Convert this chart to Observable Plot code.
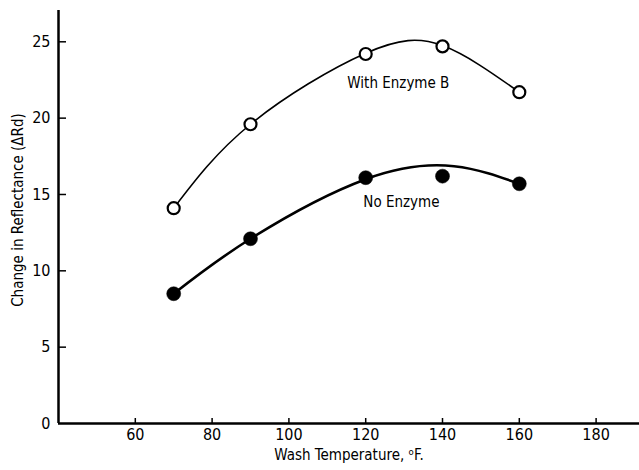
<!DOCTYPE html>
<html>
<head>
<meta charset="utf-8">
<script src="https://cdn.jsdelivr.net/npm/d3@7"></script>
<script src="https://cdn.jsdelivr.net/npm/@observablehq/plot@0.6"></script>
<style>
  html, body { margin: 0; padding: 0; background: #fff; }
</style>
</head>
<body>
<div id="chart"></div>
<script>
// Measured points
const temps = [70, 90, 120, 140, 160];
const withEnzyme = [14.1, 19.6, 24.2, 24.7, 21.7];
const noEnzyme = [8.5, 12.1, 16.1, 16.2, 15.7];

// Hand-drawn fitted curves (control points)
const withCurveX = [70, 90, 120, 140, 160];
const withCurveY = [14.1, 19.6, 24.25, 24.75, 21.7];
const noCurveX = [70, 90, 120, 143, 160];
const noCurveY = [8.5, 12.1, 16.0, 16.85, 15.7];

// Ticks
const xTicks = [60, 80, 100, 120, 140, 160, 180];
const yTicks = [5, 10, 15, 20, 25];
const yLabels = [0, 5, 10, 15, 20, 25];

// Annotations
const labelText = ["With Enzyme B", "No Enzyme"];
const labelX = [128.5, 129.3];
const labelY = [22.3, 14.5];

const xTitle = "Wash Temperature, \u1D52F.";
const yTitle = "Change in Reflectance (\u0394Rd)";

const withPts = temps.map((t, i) => ({x: t, y: withEnzyme[i]}));
const noPts = temps.map((t, i) => ({x: t, y: noEnzyme[i]}));
const withCurve = withCurveX.map((t, i) => ({x: t, y: withCurveY[i]}));
const noCurve = noCurveX.map((t, i) => ({x: t, y: noCurveY[i]}));
const labels = labelText.map((s, i) => ({s, x: labelX[i], y: labelY[i]}));

const W = 639, H = 470;
const mL = 58, mR = 0, mT = 10, mB = 47;
const frameW = W - mL - mR, frameH = H - mT - mB;

const font = '"Liberation Sans Narrow", "DejaVu Sans Condensed", "Liberation Sans", sans-serif';

const chart = Plot.plot({
  width: W,
  height: H,
  marginLeft: mL,
  marginRight: mR,
  marginTop: mT,
  marginBottom: mB,
  style: {fontFamily: font, fontSize: "16px", color: "#000", background: "#fff"},
  x: {domain: [40, 191.3]},
  y: {domain: [0, 27.05]},
  marks: [
    Plot.axisX({ticks: xTicks, tickSize: 0, tickPadding: 5, label: null, fontSize: 16, tickFormat: d => String(d)}),
    Plot.axisY({ticks: yLabels, tickSize: 0, tickPadding: 8, label: null, fontSize: 16, tickFormat: d => String(d)}),
    Plot.tickX(xTicks, {x: d => d, insetTop: frameH - 5, stroke: "#000", strokeWidth: 1.5}),
    Plot.tickY(yTicks, {y: d => d, insetRight: frameW - 8, stroke: "#000", strokeWidth: 1.5}),
    Plot.ruleX([40], {stroke: "#000", strokeWidth: 2.5}),
    Plot.ruleY([0], {stroke: "#000", strokeWidth: 2.5}),
    Plot.line(withCurve, {x: "x", y: "y", curve: "natural", stroke: "#000", strokeWidth: 1.6}),
    Plot.line(noCurve, {x: "x", y: "y", curve: "natural", stroke: "#000", strokeWidth: 2.6}),
    Plot.dot(withPts, {x: "x", y: "y", r: 6, fill: "#fff", stroke: "#000", strokeWidth: 2.2}),
    Plot.dot(noPts, {x: "x", y: "y", r: 7, fill: "#000", stroke: "#000", strokeWidth: 0.5}),
    Plot.text(labels, {x: "x", y: "y", text: "s", fontSize: 15, fill: "#000"}),
    Plot.text([xTitle], {frameAnchor: "bottom", lineAnchor: "middle", dy: 32, fontSize: 15, fill: "#000"}),
    Plot.text([yTitle], {frameAnchor: "left", textAnchor: "middle", lineAnchor: "middle", dx: -40, dy: -7, rotate: -90, fontSize: 15, fill: "#000"})
  ]
});
document.getElementById("chart").appendChild(chart);
</script>
</body>
</html>
